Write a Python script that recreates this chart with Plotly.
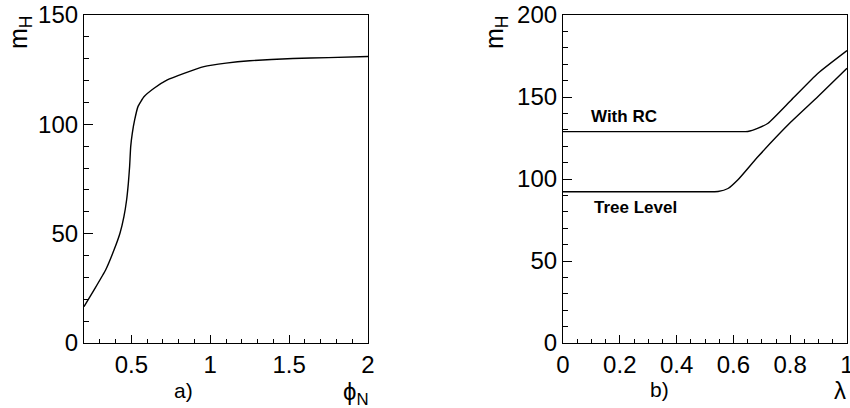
import plotly.graph_objects as go

# Panel a) : m_H vs phi_N
phi_n = [0.2, 0.263, 0.337, 0.390, 0.428, 0.453, 0.470, 0.481, 0.489, 0.496, 0.506, 0.521,
         0.542, 0.580, 0.644, 0.728, 0.834, 0.960, 1.10, 1.25, 1.524, 1.75, 2.0]
mh_a = [16.6, 24.2, 33.4, 42.5, 50.2, 57.8, 65.4, 73.0, 80.6, 89.8, 95.9, 102.0,
        108.1, 112.6, 116.5, 120.3, 123.3, 126.4, 128.0, 129.1, 130.1, 130.5, 131.0]

# Panel b) : m_H vs lambda
lam_rc = [0.0, 0.30, 0.60, 0.651, 0.687, 0.722, 0.804, 0.898, 1.0]
mh_rc = [128.9, 128.9, 128.9, 129.0, 131.0, 134.0, 148.2, 164.5, 178.3]
lam_tree = [0.0, 0.30, 0.50, 0.546, 0.581, 0.616, 0.687, 0.804, 0.898, 1.0]
mh_tree = [92.2, 92.2, 92.2, 92.4, 94.2, 99.5, 113.7, 135.0, 150.3, 167.5]

W, H = 850, 408
FONT = "Liberation Sans"


def px(x):
    return x / W


def py(y):
    return 1 - y / H


fig = go.Figure()
line = dict(color="black", width=1.4)
fig.add_trace(go.Scatter(x=phi_n, y=mh_a, mode="lines", line=dict(shape="spline", smoothing=0.4, **line),
                         xaxis="x", yaxis="y", showlegend=False))
fig.add_trace(go.Scatter(x=lam_rc, y=mh_rc, mode="lines", line=dict(shape="spline", smoothing=0.5, **line),
                         xaxis="x2", yaxis="y2", showlegend=False))
fig.add_trace(go.Scatter(x=lam_tree, y=mh_tree, mode="lines", line=dict(shape="spline", smoothing=0.5, **line),
                         xaxis="x2", yaxis="y2", showlegend=False))

common = dict(showline=True, linecolor="black", linewidth=1.2, mirror=True, showgrid=False,
              zeroline=False, ticks="inside", tickcolor="black", tickwidth=1, automargin=False,
              ticklabeloverflow="allow",
              tickfont=dict(family=FONT, size=24, color="black"))

fig.update_layout(
    width=W, height=H, margin=dict(l=0, r=0, t=0, b=0, autoexpand=False),
    paper_bgcolor="white", plot_bgcolor="white",
    xaxis=dict(domain=[px(84), px(368)], range=[0.2, 2], tickvals=[0.5, 1, 1.5, 2],
               ticktext=["0.5", "1", "1.5", "2"], ticklen=8,
               minor=dict(ticks="inside", dtick=0.1, tick0=0, ticklen=4, tickcolor="black"),
               anchor="y", **common),
    yaxis=dict(domain=[py(343), py(15)], range=[0, 150], dtick=50, ticklen=9,
               minor=dict(ticks="inside", dtick=10, ticklen=5, tickcolor="black"),
               anchor="x", **common),
    xaxis2=dict(domain=[px(563), px(847)], range=[0, 1], dtick=0.2, ticklen=8,
                tickvals=[0, 0.2, 0.4, 0.6, 0.8, 1], ticktext=["0", "0.2", "0.4", "0.6", "0.8", "1"],
                minor=dict(ticks="inside", dtick=0.05, ticklen=4, tickcolor="black"),
                anchor="y2", **common),
    yaxis2=dict(domain=[py(343), py(15)], range=[0, 200], dtick=50, ticklen=9,
                minor=dict(ticks="inside", dtick=10, ticklen=5, tickcolor="black"),
                anchor="x2", **common),
)

ann_font = dict(family=FONT, size=25, color="black")
annotations = [
    dict(x=px(20), y=py(33), text="m<sub>H</sub>", textangle=-90, font=ann_font),
    dict(x=px(496), y=py(33), text="m<sub>H</sub>", textangle=-90, font=ann_font),
    dict(x=px(356), y=py(393), text="ϕ<sub>N</sub>", font=dict(family=FONT, size=24, color="black")),
    dict(x=px(840), y=py(390), text="λ", font=dict(family=FONT, size=24, color="black")),
    dict(x=px(183), y=py(390), text="a)", font=dict(family=FONT, size=21, color="black")),
    dict(x=px(659), y=py(389), text="b)", font=dict(family=FONT, size=21, color="black")),
    dict(x=px(624), y=py(117), text="<b>With RC</b>", font=dict(family=FONT, size=17, color="black")),
    dict(x=px(635), y=py(207), text="<b>Tree Level</b>", font=dict(family=FONT, size=17, color="black")),
]
for a in annotations:
    a.update(xref="paper", yref="paper", showarrow=False, xanchor="center", yanchor="middle")
fig.update_layout(annotations=annotations)

fig.write_html("out.html", config={"displayModeBar": False},
               post_script="document.body.style.margin='0';document.body.style.overflow='hidden';")
